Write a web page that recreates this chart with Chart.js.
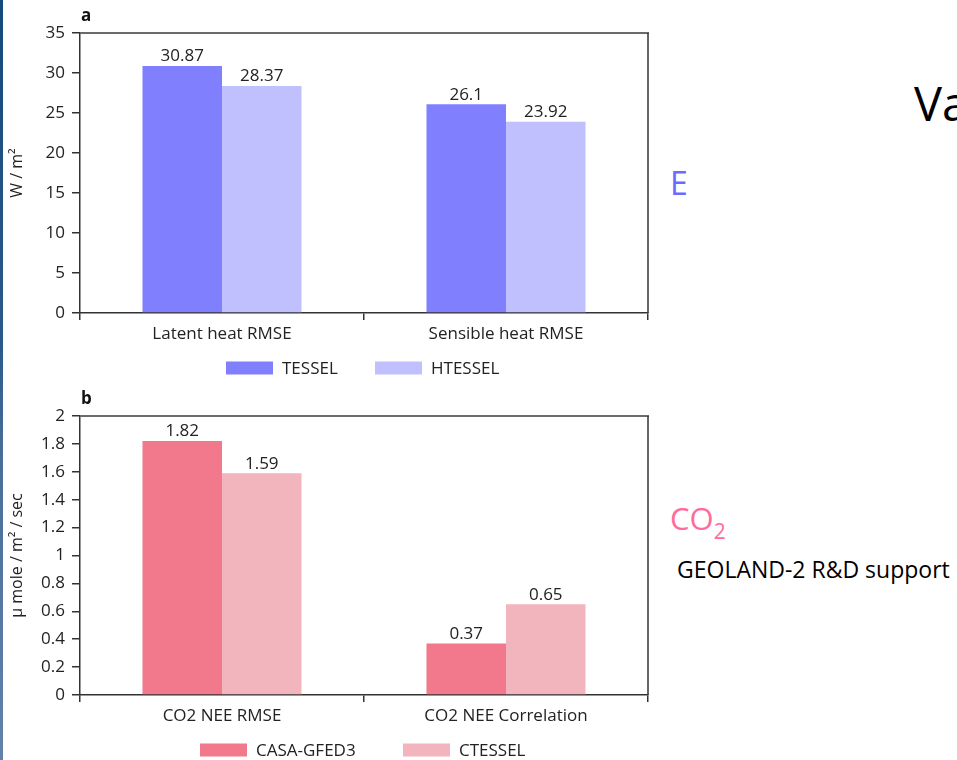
<!DOCTYPE html>
<html>
<head>
<meta charset="utf-8">
<script src="https://cdn.jsdelivr.net/npm/chart.js@4.4.0/dist/chart.umd.min.js"></script>
<style>
    body { margin: 0; background: #fff; width: 957px; height: 760px; position: relative; overflow: hidden; font-family: "Open Sans", sans-serif; }
    #strip { position: absolute; left: 0; top: 0; width: 3px; height: 760px; background: linear-gradient(#164a7c, #2a5a8a 45%, #4a6e9a 60%, #6282aa); }
    .panel { position: absolute; left: 0; width: 660px; }
    .note { position: absolute; line-height: 1; white-space: nowrap; }
</style>
</head>
<body>
<div id="strip"></div>
<div class="panel" style="top:0;height:383px"><canvas id="heatCanvas"></canvas></div>
<div class="panel" style="top:383px;height:377px"><canvas id="co2Canvas"></canvas></div>

<div class="note" style="left:914px;top:80px;font-size:47px;color:#000">Va</div>
<div class="note" style="left:670px;top:167px;font-size:32px;color:#6b6bff">E</div>
<div class="note" style="left:670px;top:503px;font-size:31px;color:#ff6b9b">CO<span style="font-size:21px;position:relative;top:9px">2</span></div>
<div class="note" style="left:677px;top:558px;font-size:23px;color:#000">GEOLAND-2 R&amp;D support</div>

<script>
// panel a
var heat_labels = ['Latent heat RMSE', 'Sensible heat RMSE'];
var tessel = [30.87, 26.1];
var htessel = [28.37, 23.92];

// panel b
var co2_labels = ['CO2 NEE RMSE', 'CO2 NEE Correlation'];
var casa = [1.82, 0.37];
var ctessel = [1.59, 0.65];

var FONT = '"Open Sans", sans-serif';
var INK = '#222';

// frame, panel letter, value labels and legend
var extras = {
    id: 'extras',
    afterDraw: function (chart, args, opts) {
        var ctx = chart.ctx;
        var a = chart.chartArea;
        ctx.save();

        ctx.strokeStyle = '#6a6a6a';
        ctx.lineWidth = 2;
        ctx.beginPath();
        ctx.moveTo(a.left, a.top);
        ctx.lineTo(a.right + 1, a.top);
        ctx.stroke();
        ctx.strokeStyle = '#333';
        ctx.lineWidth = 1.5;
        ctx.beginPath();
        ctx.moveTo(a.right, a.top);
        ctx.lineTo(a.right, a.bottom);
        ctx.stroke();

        ctx.fillStyle = '#111';
        ctx.font = 'bold 17px ' + FONT;
        ctx.textAlign = 'left';
        ctx.textBaseline = 'alphabetic';
        ctx.fillText(opts.letter, a.left + 1, a.top - 12);

        // numbers above the bars
        ctx.font = '17px ' + FONT;
        ctx.fillStyle = INK;
        ctx.textAlign = 'center';
        ctx.textBaseline = 'bottom';
        chart.data.datasets.forEach(function (ds, i) {
            chart.getDatasetMeta(i).data.forEach(function (bar, j) {
                ctx.fillText(String(ds.data[j]), bar.x, bar.y - 1);
            });
        });

        // legend
        ctx.textAlign = 'left';
        ctx.textBaseline = 'middle';
        chart.data.datasets.forEach(function (ds, i) {
            var x = opts.legendX[i];
            ctx.fillStyle = ds.backgroundColor;
            ctx.fillRect(x, opts.legendY - 6.5, 47, 13);
            ctx.fillStyle = INK;
            ctx.fillText(ds.label, x + 56, opts.legendY + 1);
        });
        ctx.restore();
    }
};

function makeChart(id, labels, sets, yMax, yStep, yTitle, extraOpts, axisH) {
    return new Chart(document.getElementById(id), {
        type: 'bar',
        data: {
            labels: labels,
            datasets: sets
        },
        options: {
            responsive: true,
            maintainAspectRatio: false,
            animation: false,
            layout: { padding: { top: 33, right: 12, left: 0, bottom: 0 } },
            plugins: {
                legend: { display: false },
                tooltip: { enabled: false },
                extras: extraOpts
            },
            datasets: { bar: { categoryPercentage: 0.56, barPercentage: 1 } },
            scales: {
                x: {
                    grid: { display: true, drawOnChartArea: false, offset: true, tickLength: 7, color: '#333', lineWidth: 1.5 },
                    border: { color: '#333', width: 1.5 },
                    ticks: { color: INK, font: { family: FONT, size: 17 }, padding: 4 },
                    afterFit: function (scale) { scale.height = axisH; }
                },
                y: {
                    min: 0,
                    max: yMax,
                    grid: { drawOnChartArea: false, tickLength: 8, color: '#333', lineWidth: 1.5 },
                    border: { color: '#333', width: 1.5 },
                    ticks: {
                        stepSize: yStep,
                        color: INK,
                        padding: 7,
                        font: { family: FONT, size: 17 },
                        callback: function (v) { return String(Math.round(v * 10) / 10); }
                    },
                    title: { display: true, text: yTitle, color: INK, font: { family: FONT, size: 16 }, padding: { top: 8, bottom: 0 } },
                    afterFit: function (scale) { scale.width = 80; }
                }
            }
        },
        plugins: [extras]
    });
}

makeChart('heatCanvas', heat_labels, [
    { label: 'TESSEL', data: tessel, backgroundColor: '#8080ff' },
    { label: 'HTESSEL', data: htessel, backgroundColor: '#c0c0ff' }
], 35, 5, 'W / m\u00b2', { letter: 'a', legendX: [226, 375], legendY: 368 }, 70);

makeChart('co2Canvas', co2_labels, [
    { label: 'CASA-GFED3', data: casa, backgroundColor: '#f2788b' },
    { label: 'CTESSEL', data: ctessel, backgroundColor: '#f2b5bd' }
], 2, 0.2, '\u00b5 mole / m\u00b2 / sec', { letter: 'b', legendX: [200, 403], legendY: 367 }, 65);
</script>
</body>
</html>
